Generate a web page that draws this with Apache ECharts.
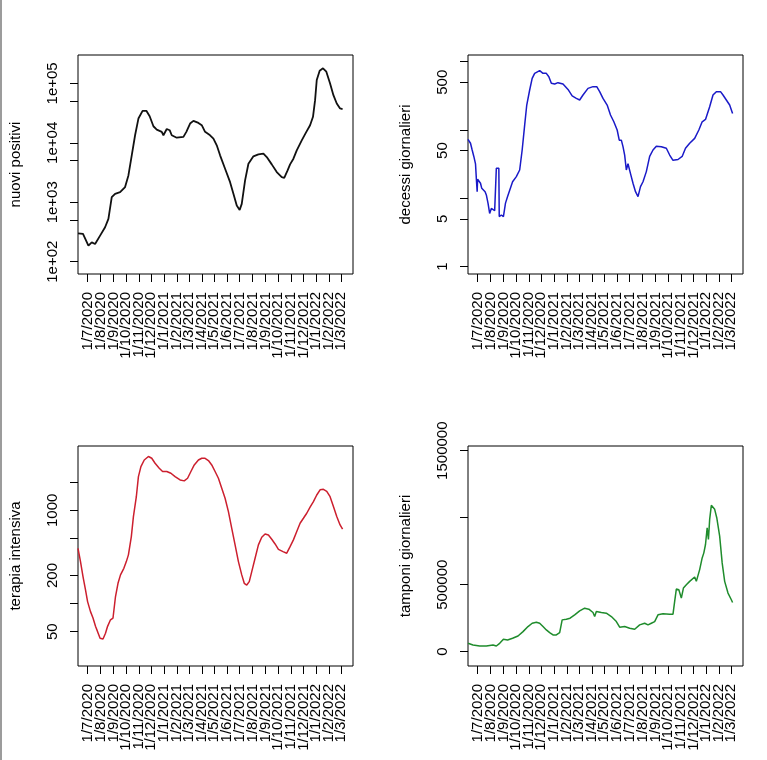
<!DOCTYPE html>
<html><head><meta charset="utf-8">
<script src="https://cdn.jsdelivr.net/npm/echarts@6/dist/echarts.min.js"></script>
<style>html,body{margin:0;padding:0;background:#fff}#c{width:767px;height:760px}</style>
</head><body><div id="c"></div><script>
// ---- x range and month ticks ----
const axisStart = '2020-06-08', axisEnd = '2022-03-30';
const tickDates = ['2020-07-01','2020-08-01','2020-09-01','2020-10-01','2020-11-01','2020-12-01',
  '2021-01-01','2021-02-01','2021-03-01','2021-04-01','2021-05-01','2021-06-01','2021-07-01',
  '2021-08-01','2021-09-01','2021-10-01','2021-11-01','2021-12-01','2022-01-01','2022-02-01','2022-03-01'];
const tickLabels = ['1/7/2020','1/8/2020','1/9/2020','1/10/2020','1/11/2020','1/12/2020',
  '1/1/2021','1/2/2021','1/3/2021','1/4/2021','1/5/2021','1/6/2021','1/7/2021',
  '1/8/2021','1/9/2021','1/10/2021','1/11/2021','1/12/2021','1/1/2022','1/2/2022','1/3/2022'];

// ---- nuovi positivi ----
const posDates = ['2020-06-08','2020-06-20','2020-07-03','2020-07-11','2020-07-19','2020-07-31','2020-08-12','2020-08-20','2020-08-28','2020-09-05','2020-09-17','2020-09-29','2020-10-07','2020-10-15','2020-10-23','2020-10-31','2020-11-10','2020-11-19','2020-11-27','2020-12-06','2020-12-14','2020-12-26','2020-12-30','2021-01-07','2021-01-14','2021-01-19','2021-01-31','2021-02-16','2021-02-23','2021-03-04','2021-03-12','2021-03-24','2021-04-01','2021-04-09','2021-04-21','2021-04-29','2021-05-07','2021-05-15','2021-05-27','2021-06-08','2021-06-16','2021-06-24','2021-07-01','2021-07-06','2021-07-14','2021-07-22','2021-08-03','2021-08-15','2021-08-27','2021-09-04','2021-09-16','2021-09-28','2021-10-10','2021-10-16','2021-10-24','2021-10-30','2021-11-07','2021-11-15','2021-11-27','2021-12-08','2021-12-17','2021-12-24','2021-12-29','2022-01-02','2022-01-09','2022-01-17','2022-01-25','2022-02-03','2022-02-11','2022-02-19','2022-02-27','2022-03-05'];
const posValues = [300,293,186,212,199,275,380,525,1220,1390,1480,1800,2830,6160,13400,25600,34500,34500,28000,19000,16700,15300,13400,17100,16300,13400,12200,12600,15300,21100,23400,21600,19800,15300,13400,11800,9080,6160,3670,2180,1390,880,745,940,2330,4450,5930,6400,6570,5770,4340,3220,2650,2580,3440,4340,5410,7480,11000,15300,19800,27400,52200,114000,163000,179000,157000,99800,63400,45900,37800,37000];

// ---- decessi giornalieri ----
const decDates = ['2020-06-08','2020-06-14','2020-06-18','2020-06-22','2020-06-26','2020-06-28','2020-06-30','2020-07-01','2020-07-04','2020-07-08','2020-07-11','2020-07-14','2020-07-19','2020-07-22','2020-07-26','2020-07-30','2020-08-03','2020-08-07','2020-08-11','2020-08-14','2020-08-15','2020-08-21','2020-08-22','2020-08-27','2020-09-01','2020-09-06','2020-09-11','2020-09-23','2020-10-02','2020-10-10','2020-10-16','2020-10-22','2020-10-27','2020-11-03','2020-11-09','2020-11-15','2020-11-27','2020-12-05','2020-12-13','2020-12-19','2020-12-25','2021-01-02','2021-01-10','2021-01-22','2021-02-03','2021-02-13','2021-02-23','2021-03-03','2021-03-11','2021-03-23','2021-04-04','2021-04-13','2021-04-20','2021-04-28','2021-05-08','2021-05-16','2021-05-24','2021-06-01','2021-06-06','2021-06-11','2021-06-15','2021-06-19','2021-06-23','2021-06-27','2021-07-03','2021-07-09','2021-07-15','2021-07-21','2021-07-27','2021-08-02','2021-08-10','2021-08-18','2021-08-26','2021-09-03','2021-09-15','2021-09-27','2021-10-05','2021-10-13','2021-10-25','2021-11-04','2021-11-12','2021-11-22','2021-12-04','2021-12-14','2021-12-22','2021-12-30','2022-01-09','2022-01-17','2022-01-25','2022-02-04','2022-02-10','2022-02-18','2022-02-26','2022-03-05'];
const decValues = [73,64,51,41,32,19.6,12.5,19,18.5,16.6,14,13.2,12.5,11.2,8.5,6.0,7.1,7.5,6.6,6.6,27.5,27.5,5.4,5.7,5.4,8.5,10.6,17.5,20.8,26,51,118,232,385,570,675,738,675,675,603,482,471,493,471,393,315,290,275,325,407,431,431,364,290,232,166,132,100,71,71,57,43,26,32,23,16.6,12.5,10.6,14.8,17.5,24.6,41,51,58,57,54,43,36,37,41,54,64,75.5,100,132,143,219,325,364,364,325,275,232,175];

// ---- terapia intensiva ----
const terDates = ['2020-06-08','2020-06-14','2020-06-20','2020-06-26','2020-07-01','2020-07-08','2020-07-14','2020-07-20','2020-07-25','2020-07-31','2020-08-07','2020-08-13','2020-08-18','2020-08-25','2020-08-31','2020-09-06','2020-09-12','2020-09-18','2020-09-26','2020-10-02','2020-10-07','2020-10-14','2020-10-19','2020-10-26','2020-10-31','2020-11-06','2020-11-14','2020-11-24','2020-12-02','2020-12-10','2020-12-20','2020-12-28','2021-01-07','2021-01-17','2021-01-27','2021-02-08','2021-02-18','2021-02-26','2021-03-06','2021-03-14','2021-03-24','2021-04-01','2021-04-09','2021-04-17','2021-04-25','2021-05-03','2021-05-11','2021-05-19','2021-05-27','2021-06-04','2021-06-12','2021-06-20','2021-06-28','2021-07-06','2021-07-12','2021-07-18','2021-07-24','2021-07-30','2021-08-07','2021-08-15','2021-08-23','2021-08-31','2021-09-08','2021-09-16','2021-09-24','2021-10-02','2021-10-13','2021-10-22','2021-10-30','2021-11-07','2021-11-15','2021-11-23','2021-12-01','2021-12-09','2021-12-17','2021-12-25','2022-01-02','2022-01-10','2022-01-18','2022-01-26','2022-02-03','2022-02-11','2022-02-19','2022-02-27','2022-03-05'];
const terValues = [392,282,195,140,105,82,70,57,50,42.4,41.7,48,57,67,70,119,165,203,239,282,333,523,857,1400,2300,2940,3470,3780,3620,3200,2830,2610,2610,2500,2300,2120,2070,2210,2610,3070,3470,3620,3620,3420,3070,2610,2210,1730,1350,969,642,426,282,203,165,158,172,220,306,426,514,558,545,490,436,382,361,347,408,482,592,727,822,931,1080,1240,1460,1660,1680,1600,1400,1100,857,697,627];

// ---- tamponi giornalieri ----
const tamDates = ['2020-06-08','2020-06-20','2020-07-06','2020-07-22','2020-08-07','2020-08-15','2020-08-23','2020-09-01','2020-09-11','2020-09-23','2020-10-06','2020-10-18','2020-10-30','2020-11-09','2020-11-19','2020-11-27','2020-12-05','2020-12-13','2020-12-21','2020-12-25','2020-12-29','2021-01-06','2021-01-14','2021-01-20','2021-01-30','2021-02-08','2021-02-19','2021-03-03','2021-03-15','2021-03-25','2021-04-04','2021-04-08','2021-04-12','2021-04-24','2021-05-06','2021-05-18','2021-05-30','2021-06-07','2021-06-19','2021-07-01','2021-07-13','2021-07-25','2021-08-06','2021-08-14','2021-08-22','2021-08-30','2021-09-07','2021-09-19','2021-10-05','2021-10-13','2021-10-17','2021-10-21','2021-10-27','2021-11-02','2021-11-07','2021-11-14','2021-11-22','2021-12-04','2021-12-08','2021-12-12','2021-12-16','2021-12-22','2021-12-26','2021-12-30','2022-01-03','2022-01-06','2022-01-09','2022-01-13','2022-01-17','2022-01-21','2022-01-26','2022-02-02','2022-02-08','2022-02-14','2022-02-22','2022-03-02','2022-03-05'];
const tamValues = [62500,50000,42500,42500,50000,42500,62500,92500,87500,100000,117500,150000,187500,212500,220000,212500,187500,162500,142500,155000,125000,125000,142500,237500,242500,250000,275000,305000,325000,317500,292500,262500,300000,292500,287500,262500,225000,182500,187500,175000,167500,200000,212500,200000,212500,225000,275000,282500,280000,280000,375000,467500,462500,400000,475000,500000,525000,557500,525000,525000,612500,700000,737500,800000,925000,837500,987500,1092500,1092500,1062500,1000000,862500,662500,525000,437500,387500,367500];

// ---- tick / label sets for y axes ----
const posTicks = [100,500,1000,5000,10000,50000,100000], posLabels = [100,1000,10000,100000];
const decTicks = [1,5,10,50,100,500,1000], decLabels = [1,5,50,500];
const terTicks = [50,100,200,500,1000,2000], terLabels = [50,200,1000];
const tamTicks = [0,500000,1000000,1500000], tamLabels = [0,500000,1500000];

// day number since axisStart (x coordinate fed to the value axis)
const utc = s => { const [y,m,d] = s.split('-').map(Number); return Date.UTC(y, m-1, d); };
const dayNo = s => Math.round((utc(s) - utc(axisStart)) / 86400000);
const tickDays = tickDates.map(dayNo);
const pairs = (ds, vs) => ds.map((d, i) => [dayNo(d), vs[i]]);
// two interleaved tick sets so that ECharts' overlap hiding never drops a month
const tickDaysA = tickDays.filter((d, k) => k % 2 === 0);
const tickDaysB = tickDays.filter((d, k) => k % 2 === 1);

const FONT = '"Liberation Sans", Arial, sans-serif';
const grids = [
  {left:78, top:55, width:275, height:219},
  {left:468, top:55, width:275, height:219},
  {left:78, top:446, width:275, height:220},
  {left:468, top:446, width:275, height:220}
].map(g => Object.assign(g, {show:true, borderColor:'#000', borderWidth:1, backgroundColor:'transparent', containLabel:false}));

const xAx = (i, days) => ({
  type:'value', gridIndex:i, min:0, max:dayNo(axisEnd), position:'bottom', offset:0,
  axisLine:{show:false, onZero:false},
  axisTick:{show:true, length:8, customValues:days, lineStyle:{color:'#000', width:1}},
  axisLabel:{show:true, customValues:days, rotate:90, fontSize:15, fontFamily:FONT, color:'#000', margin:18,
    hideOverlap:false, showMinLabel:true, showMaxLabel:true,
    formatter: v => { const k = tickDays.indexOf(Math.round(v)); return k >= 0 ? tickLabels[k] : ''; }},
  splitLine:{show:false}
});
const xAxes = [];
grids.forEach((g, i) => { xAxes.push(xAx(i, tickDaysA)); xAxes.push(xAx(i, tickDaysB)); });

function yAx(i, extra, name, ticks, labels, fmt) {
  return Object.assign({
    gridIndex:i, name:name, nameLocation:'middle', nameGap:55,
    nameTextStyle:{fontSize:15, fontFamily:FONT, color:'#000'},
    axisLine:{show:false, onZero:false},
    axisTick:{show:true, length:8, customValues:ticks, lineStyle:{color:'#000', width:1}},
    axisLabel:{show:true, customValues:labels, rotate:90, fontSize:15, fontFamily:FONT, color:'#000', margin:18,
      formatter:fmt},
    splitLine:{show:false}
  }, extra);
}
const yAxes = [
  yAx(0, {type:'log', logBase:10, min:62.2, max:300000}, 'nuovi positivi', posTicks, posLabels,
      v => '1e+0' + Math.round(Math.log10(v))),
  yAx(1, {type:'log', logBase:10, min:0.78, max:1253}, 'decessi giornalieri', decTicks, decLabels, v => String(v)),
  yAx(2, {type:'log', logBase:10, min:21.4, max:4900}, 'terapia intensiva', terTicks, terLabels, v => String(v)),
  yAx(3, {type:'value', min:-106700, max:1535000}, 'tamponi giornalieri', tamTicks, tamLabels, v => String(v))
];

const mk = (i, data, color, w) => ({
  type:'line', xAxisIndex:2*i, yAxisIndex:i, data:data, showSymbol:false, symbol:'none',
  lineStyle:{color:color, width:w}, smooth:false, animation:false, silent:true
});

const chart = echarts.init(document.getElementById('c'), null, {renderer:'canvas'});
chart.setOption({
  backgroundColor:'#fff',
  animation:false,
  graphic:[{type:'rect', left:0, top:0, shape:{width:2, height:760}, style:{fill:'#9c9c9c'}}],
  grid:grids, xAxis:xAxes, yAxis:yAxes,
  series:[
    mk(0, pairs(posDates, posValues), '#111111', 1.8),
    mk(1, pairs(decDates, decValues), '#1a1ac8', 1.5),
    mk(2, pairs(terDates, terValues), '#cc1f2e', 1.5),
    mk(3, pairs(tamDates, tamValues), '#1f8c2c', 1.5)
  ]
});
</script></body></html>
